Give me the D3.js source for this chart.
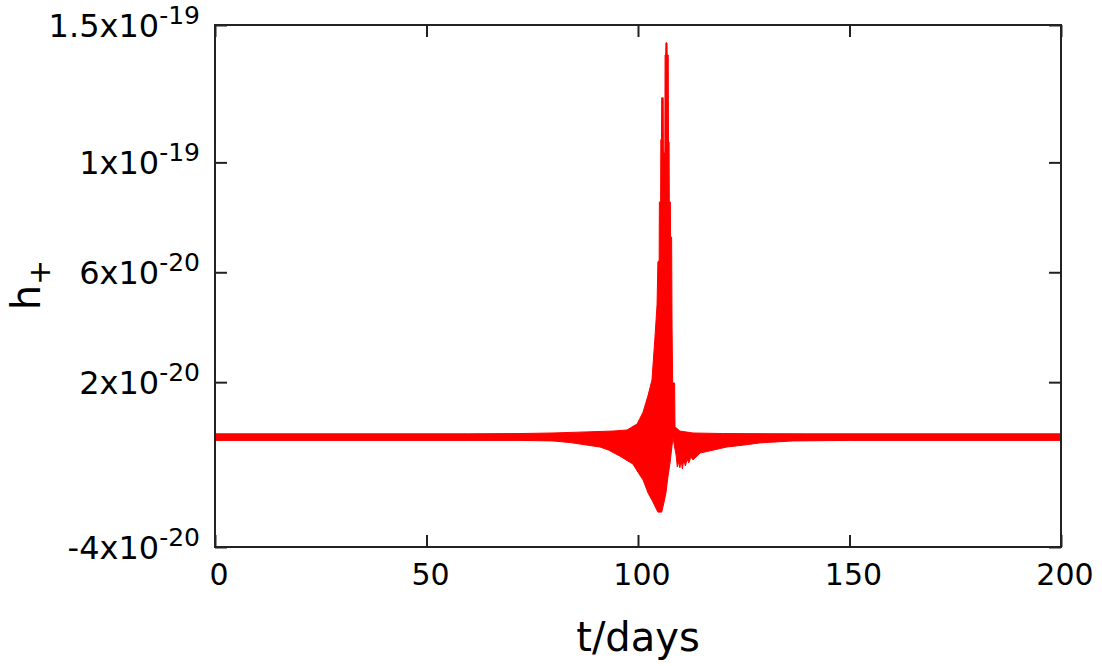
<!DOCTYPE html>
<html>
<head>
<meta charset="utf-8">
<script src="https://cdn.jsdelivr.net/npm/d3@7"></script>
<style>
  body { margin: 0; background: #fff; }
  text { font-family: "DejaVu Sans", sans-serif; fill: #000; }
</style>
</head>
<body>
<div id="chart-area"></div>
<script>
// strain amplitude envelope, in units of 1e-21
const unit = 1e-21;

const tUpper = [0, 60, 72.1, 79.9, 87.9, 94.1, 97.4, 99.8, 101.2, 102.4,
  103.3, 104.0, 104.5, 104.7, 105.0, 105.05, 105.35, 105.4, 105.55, 105.6,
  105.95, 106.0, 106.35, 106.4, 106.55, 106.6, 106.85, 106.9, 107.15, 107.2,
  107.35, 107.4, 107.65, 107.7, 107.95, 108.05, 108.2, 108.65, 108.75, 109.1,
  109.9, 113.0, 120, 140, 200];
const hUpper = [1.2, 1.2, 1.3, 1.5, 1.9, 2.2, 2.6, 4.8, 9.1, 15.3,
  20.8, 36.1, 48.1, 63.7, 64.4, 85.6, 85.6, 108.3, 108.3, 123.5,
  123.5, 103.4, 103.4, 139.1, 139.1, 143.5, 143.5, 139.1, 139.1, 107.4,
  107.4, 85.6, 85.6, 72.8, 72.8, 40, 19.7, 19.7, 3.7, 3.3,
  2.2, 1.5, 1.3, 1.2, 1.2];

const tLower = [0, 60, 72.1, 79.9, 84, 87.9, 91, 93, 95.7, 97.6,
  98.8, 99.8, 101.2, 102.4, 103.3, 104.0, 104.7, 105.6, 106.1, 106.6,
  107.1, 107.6, 108.0, 108.3, 108.6, 109.0, 109.3, 109.6, 109.9, 110.2,
  110.5, 110.8, 111.2, 111.6, 112.0, 112.5, 113.0, 114.7, 117, 121,
  125, 128.8, 136.6, 150, 200];
const hLower = [-1.2, -1.2, -1.2, -1.4, -2, -2.9, -3.6, -4.7, -6.9, -8.7,
  -9.8, -12.3, -15.6, -20.4, -22.9, -25.1, -27.3, -27.3, -24, -20.4,
  -14.2, -9.1, -3.6, 0, -3.2, -6.5, -10.9, -9, -11.2, -8.3,
  -11.6, -8.3, -10.5, -8, -9.4, -7.2, -8.3, -5.8, -5, -3.6,
  -2.9, -2.1, -1.4, -1.2, -1.2];

// tick labels
const xTicks = [0, 50, 100, 150, 200];
const yTicks = [-4e-20, 2e-20, 6e-20, 1e-19, 1.5e-19];
const yTickMant = ["-4x10", "2x10", "6x10", "1x10", "1.5x10"];
const yTickExp = ["-20", "-20", "-20", "-19", "-19"];

const margin = {top: 25, right: 41, bottom: 119, left: 215};
const width = 1102 - margin.left - margin.right;
const height = 666 - margin.top - margin.bottom;

const svg = d3.select("#chart-area")
  .append("svg")
    .attr("width", 1102)
    .attr("height", 666)
  .append("g")
    .attr("transform", `translate(${margin.left}, ${margin.top})`);

const x = d3.scaleLinear().domain([0, 200]).range([0, width]);
const y = d3.scaleLinear().domain([-4e-20, 1.5e-19]).range([height, 0]);

// waveform band: upper envelope forward, lower envelope back
const upperPts = tUpper.map((t, i) => [x(t), y(hUpper[i] * unit)]);
const lowerPts = tLower.map((t, i) => [x(t), y(hLower[i] * unit)]).reverse();

svg.append("path")
  .attr("d", d3.line()(upperPts.concat(lowerPts)) + "Z")
  .attr("fill", "#ff0000")
  .attr("stroke", "#ff0000")
  .attr("stroke-width", 1)
  .attr("stroke-linejoin", "round");

// ticks on all four sides, pointing inward
const tickLen = 12;
const axes = [
  {axis: d3.axisBottom(x).tickValues(xTicks), t: `translate(0, ${height})`},
  {axis: d3.axisTop(x).tickValues(xTicks), t: "translate(0, 0)"},
  {axis: d3.axisLeft(y).tickValues(yTicks), t: "translate(0, 0)"},
  {axis: d3.axisRight(y).tickValues(yTicks), t: `translate(${width}, 0)`}
];
axes.forEach(a => {
  const g = svg.append("g")
    .attr("transform", a.t)
    .call(a.axis.tickSize(-tickLen).tickFormat(""));
  g.select(".domain").remove();
  g.selectAll(".tick line").attr("stroke", "#222").attr("stroke-width", 2);
});

// frame
svg.append("rect")
  .attr("width", width)
  .attr("height", height)
  .attr("fill", "none")
  .attr("stroke", "#222")
  .attr("stroke-width", 2);

// x tick labels
svg.selectAll(".xlab")
  .data(xTicks)
  .join("text")
    .attr("class", "xlab")
    .attr("x", d => x(d) + 4)
    .attr("y", height + 38)
    .attr("text-anchor", "middle")
    .attr("font-size", 30)
    .text(d => d);

// y tick labels with superscript exponent
const ylab = svg.selectAll(".ylab")
  .data(yTicks)
  .join("text")
    .attr("class", "ylab")
    .attr("x", -15)
    .attr("y", d => y(d) + 12)
    .attr("text-anchor", "end")
    .attr("font-size", 32);
ylab.append("tspan").text((d, i) => yTickMant[i]);
ylab.append("tspan")
  .attr("font-size", 25)
  .attr("dy", -13)
  .text((d, i) => yTickExp[i]);

// axis titles
svg.append("text")
  .attr("x", width / 2)
  .attr("y", height + 104)
  .attr("text-anchor", "middle")
  .attr("font-size", 40)
  .text("t/days");

const ytitle = svg.append("text")
  .attr("transform", `translate(${40 - margin.left}, ${285 - margin.top}) rotate(-90)`)
  .attr("text-anchor", "middle")
  .attr("font-size", 40);
ytitle.append("tspan").text("h");
ytitle.append("tspan").attr("font-size", 30).attr("dy", 10).text("+");
</script>
</body>
</html>
